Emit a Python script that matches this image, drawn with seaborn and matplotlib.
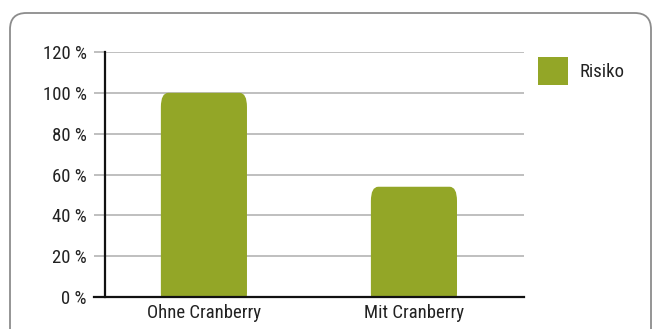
import pandas as pd
import matplotlib
matplotlib.use("Agg")
import matplotlib.pyplot as plt
import seaborn as sns
from matplotlib.patches import FancyBboxPatch, Patch
from matplotlib.ticker import FuncFormatter

# data
categories = ["Ohne Cranberry", "Mit Cranberry"]
risk_values = [100, 54]
series_name = "Risiko"
y_ticks = [0, 20, 40, 60, 80, 100, 120]

green = "#93a627"
grid_grey = "#b4b4b4"
text_col = "#222222"
fs = 13.5

df = pd.DataFrame({"Gruppe": categories, "Wert": risk_values})

sns.set_style("white")
plt.rcParams["font.family"] = ["Roboto Condensed", "DejaVu Sans"]

fig = plt.figure(figsize=(6.53, 3.29), dpi=100)
ax = fig.add_axes([105 / 653, 1 - 297 / 329, (524 - 105) / 653, (297 - 52) / 329])

sns.barplot(data=df, x="Gruppe", y="Wert", color=green, width=0.41,
            saturation=1, ax=ax, zorder=3)

# rounded tops on the bars
for bar in list(ax.patches):
    x0, y0 = bar.get_x(), bar.get_y()
    w, h = bar.get_width(), bar.get_height()
    rounded = FancyBboxPatch((x0, y0 - 5), w, h + 5,
                             boxstyle="round,pad=0,rounding_size=0.035",
                             mutation_aspect=200,
                             facecolor=green, edgecolor="none", zorder=3)
    ax.add_patch(rounded)
    bar.set_visible(False)

ax.set_ylim(0, 120)
ax.set_xlim(-0.471, 1.524)
ax.set_yticks(y_ticks)
ax.yaxis.set_major_formatter(FuncFormatter(lambda v, p: f"{int(v)} %"))
ax.set_xlabel("")
ax.set_ylabel("")

ax.yaxis.grid(True, color=grid_grey, linewidth=1.2, zorder=0)
ax.tick_params(axis="y", length=8, width=1.2, color=grid_grey, labelsize=fs,
               labelcolor=text_col, pad=5, left=True)
ax.tick_params(axis="x", length=0, labelsize=fs, labelcolor=text_col, pad=5)

for side in ["top", "right"]:
    ax.spines[side].set_visible(False)
ax.spines["left"].set_color("#111111")
ax.spines["left"].set_linewidth(1.6)
ax.spines["bottom"].set_color("#111111")
ax.spines["bottom"].set_linewidth(1.6)
ax.spines["bottom"].set_bounds(-0.471 - 0.05, 1.524)
ax.spines["bottom"].set_zorder(5)

# legend
handles = [Patch(facecolor=green, edgecolor="none", label=series_name)]
fig.legend(handles=handles, loc="upper left", bbox_to_anchor=(538 / 653, 1 - 57 / 329),
           frameon=False, fontsize=fs, handlelength=1.6, handleheight=1.89,
           handletextpad=0.6, borderpad=0, borderaxespad=0,
           labelcolor=text_col)

# rounded outer frame
frame = FancyBboxPatch((10 / 653, -0.1), 641 / 653, 1.1 - 13 / 329,
                       boxstyle="round,pad=0,rounding_size=0.025",
                       mutation_aspect=653 / 329,
                       transform=fig.transFigure, facecolor="none",
                       edgecolor="#8c8c8c", linewidth=1.3, zorder=0)
fig.patches.append(frame)

fig.savefig("out.png", dpi=100)
